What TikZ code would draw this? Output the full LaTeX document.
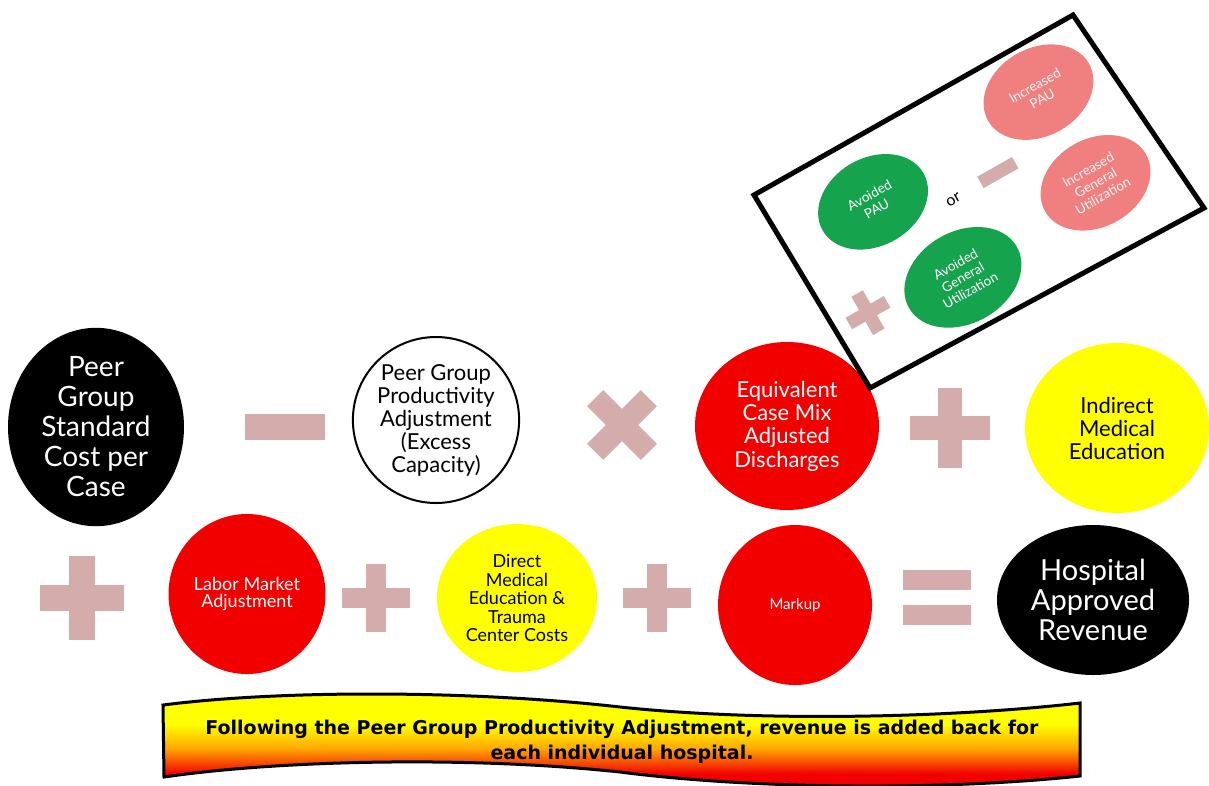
\documentclass[tikz,border=0pt]{standalone}
\usepackage{fontspec}
\setmainfont{Lato}
\newfontfamily\bannerfont{DejaVu Sans}
\usetikzlibrary{shapes.geometric}
\definecolor{opc}{RGB}{212,172,172}
\definecolor{ballred}{RGB}{242,0,0}
\definecolor{ballyellow}{RGB}{255,255,0}
\definecolor{ballgreen}{RGB}{22,163,78}
\definecolor{ballpink}{RGB}{240,128,128}
\definecolor{bannerorange}{RGB}{255,170,0}
% red at the foot, orange in the middle, yellow over the upper half
\pgfdeclareverticalshading{bannershade}{100bp}{color(0bp)=(ballred); color(33bp)=(ballred);
  color(46bp)=(bannerorange); color(58bp)=(ballyellow); color(100bp)=(ballyellow)}
\newcommand{\fsz}[2]{\fontsize{#1}{#2}\selectfont}
\begin{document}
\begin{tikzpicture}[x=1pt,y=-1pt,
  ball/.style={ellipse, inner sep=0pt, align=center},
  darkball/.style={ball, fill=black, text=white},
  redball/.style={ball, fill=ballred, text=white},
  yellowball/.style={ball, fill=ballyellow, text=black},
  greenball/.style={ball, fill=ballgreen, text=white, minimum width=116pt, minimum height=88pt, font=\fsz{13.5}{15}},
  pinkball/.style={ball, fill=ballpink, text=white!92!ballpink, minimum width=116pt, minimum height=88pt, font=\fsz{13.5}{15}},
  plusop/.pic={\fill[opc] (-40,-12) rectangle (40,12); \fill[opc] (-12,-40) rectangle (12,40);},
  timesop/.pic={\begin{scope}[rotate=45]\fill[opc] (-40,-12) rectangle (40,12); \fill[opc] (-12,-40) rectangle (12,40);\end{scope}},
  minusop/.pic={\fill[opc] (-40,-13) rectangle (40,13);},
  equalsop/.pic={\fill[opc] (-34,-27) rectangle (34,-7); \fill[opc] (-34,8) rectangle (34,28);}
]
\useasboundingbox (0,0) rectangle (1209,785);

% first row of terms
\node[darkball, minimum width=176pt, minimum height=164pt, font=\fsz{28}{30}] (stdcost) at (96,427)
  {Peer\\Group\\Standard\\Cost per\\Case};
\pic at (285,427) {minusop};
\node[ball, draw=black, line width=2pt, fill=white, minimum width=160pt, minimum height=166pt, font=\fsz{22}{23}] (ppa) at (436,420)
  {Peer Group\\Productivity\\Adjustment\\(Excess\\Capacity)};
\pic[scale=0.95] at (622,425) {timesop};
\node[redball, minimum width=184pt, minimum height=168pt, font=\fsz{22}{23.3}] (ecmad) at (787,426)
  {Equivalent\\Case Mix\\Adjusted\\Discharges};
\pic at (950,428) {plusop};
\node[yellowball, minimum width=184pt, minimum height=170pt, font=\fsz{22}{23}] (ime) at (1117,428)
  {Indirect\\Medical\\Education};

% second row of terms
\pic[scale=1.05] at (82,598) {plusop};
\node[redball, minimum width=157pt, minimum height=160pt, font=\fsz{18}{17}] (labor) at (247,594)
  {Labor Market\\Adjustment};
\pic[scale=0.86] at (376,598) {plusop};
\node[yellowball, minimum width=160pt, minimum height=148pt, font=\fsz{18}{18.5}] (dme) at (517,598)
  {Direct\\Medical\\Education \&\\Trauma\\Center Costs};
\pic[scale=0.86] at (657,598) {plusop};
\node[redball, minimum width=154pt, minimum height=160pt, font=\fsz{15}{17}] (markup) at (795,605)
  {Markup};
\pic at (937,597) {equalsop};
\node[darkball, minimum width=192pt, minimum height=150pt, font=\fsz{29}{30}] (revenue) at (1093,600)
  {Hospital\\Approved\\Revenue};

% tilted inset with the utilisation terms
\draw[line width=5pt, line join=miter, fill=white]
  (754,195) -- (1073,15) -- (1204,208) -- (870,388) -- cycle;
\begin{scope}[shift={(976,201)}, rotate=29.5, transform shape]
  \node[greenball] (apau) at (-90,-50) {Avoided\\PAU};
  \node[greenball, minimum width=124pt, minimum height=92pt] (agu) at (-49,60) {Avoided\\General\\Utilization};
  \node[pinkball] (ipau) at (108,-64) {Increased\\PAU};
  \node[pinkball] (igu) at (113,43) {Increased\\General\\Utilization};
  \node[font=\fsz{16}{18}] (or) at (-19,-12) {or};
  \pic[scale=0.5] at (33,-14) {minusop};
  \pic[scale=0.55] at (-149,44) {plusop};
\end{scope}

% wavy banner
\shadedraw[draw=black, line width=3pt, shading=bannershade]
  (163,705) .. controls (280,690) and (470,690) .. (620,707)
  .. controls (760,722) and (950,718) .. (1080,703) -- (1080,776)
  .. controls (950,790) and (760,790) .. (620,772)
  .. controls (470,756) and (280,760) .. (164,777) -- cycle;
\node[font=\bannerfont\bfseries\fsz{19}{25}, align=center] (note) at (622,742)
  {Following the Peer Group Productivity Adjustment, revenue is added back for\\each individual hospital.};
\end{tikzpicture}
\end{document}
